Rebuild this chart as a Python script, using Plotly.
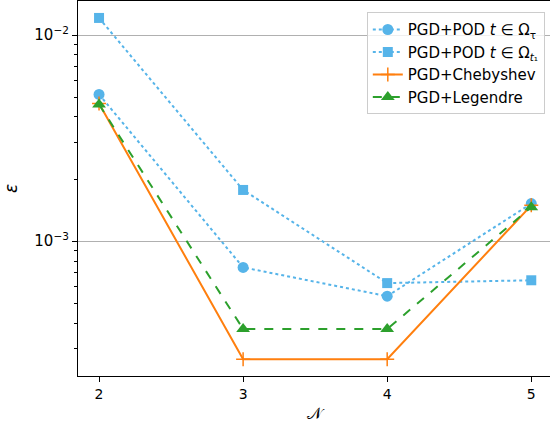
import plotly.graph_objects as go

N_vals = [2, 3, 4, 5]
pod_tau = [5.15e-3, 7.45e-4, 5.4e-4, 1.52e-3]
pod_t1 = [1.21e-2, 1.77e-3, 6.25e-4, 6.45e-4]
chebyshev = [4.65e-3, 2.67e-4, 2.67e-4, 1.49e-3]
legendre = [4.6e-3, 3.74e-4, 3.74e-4, 1.46e-3]

labels = [
    "PGD+POD <i>t</i> ∈ Ω<sub>τ</sub>",
    "PGD+POD <i>t</i> ∈ Ω<sub><i>t</i>₁</sub>",
    "PGD+Chebyshev",
    "PGD+Legendre",
]

blue = "#56B4E9"
orange = "#ff7f0e"
green = "#2ca02c"

fig = go.Figure()
fig.add_trace(go.Scatter(x=N_vals, y=pod_tau, name=labels[0], mode="lines+markers",
                         line=dict(color=blue, width=2, dash="dot"),
                         marker=dict(symbol="circle", size=11, color=blue)))
fig.add_trace(go.Scatter(x=N_vals, y=pod_t1, name=labels[1], mode="lines+markers",
                         line=dict(color=blue, width=2, dash="dot"),
                         marker=dict(symbol="square", size=10, color=blue)))
fig.add_trace(go.Scatter(x=N_vals, y=chebyshev, name=labels[2], mode="lines+markers",
                         line=dict(color=orange, width=2),
                         marker=dict(symbol="cross-thin", size=10, color=orange,
                                     line=dict(color=orange, width=1.5))))
fig.add_trace(go.Scatter(x=N_vals, y=legendre, name=labels[3], mode="lines+markers",
                         line=dict(color=green, width=2, dash="dash"),
                         marker=dict(symbol="triangle-up", size=12, color=green)))

minor_vals = [k * 1e-4 for k in range(2, 10)] + [k * 1e-3 for k in range(2, 10)]

fig.update_layout(
    width=550, height=430,
    margin=dict(l=78, r=0, t=1, b=54),
    plot_bgcolor="white", paper_bgcolor="white",
    font=dict(family="DejaVu Sans", size=14, color="black"),
    showlegend=True,
    legend=dict(x=0.989, y=0.97, xanchor="right", yanchor="top",
                bgcolor="rgba(255,255,255,0.8)", bordercolor="#cccccc", borderwidth=1,
                font=dict(size=15), tracegroupgap=0, itemwidth=30),
    xaxis=dict(range=[1.854, 5.13], tickvals=N_vals, ticktext=[str(v) for v in N_vals],
               showgrid=False, zeroline=False, showline=True, linecolor="black", linewidth=1.2,
               mirror=True, ticks="outside", ticklen=5, tickcolor="black",
               tickfont=dict(size=14),
               title=dict(text="𝒩", standoff=6, font=dict(size=16))),
    yaxis=dict(type="log", range=[-3.655, -1.835], tickvals=[1e-3, 1e-2],
               ticktext=["10<sup>−3</sup>", "10<sup>−2</sup>"],
               showgrid=True, gridcolor="#b0b0b0", gridwidth=1, zeroline=False,
               showline=True, linecolor="black", linewidth=1.2,
               ticks="outside", ticklen=5, tickcolor="black",
               tickfont=dict(size=15),
               minor=dict(tickvals=minor_vals, ticks="outside", ticklen=3, tickcolor="black",
                          showgrid=False),
               title=dict(text="<i>ε</i>", standoff=12, font=dict(size=17))),
)

fig.write_html("out.html", config={"displayModeBar": False},
               post_script="document.body.style.margin='0';")
